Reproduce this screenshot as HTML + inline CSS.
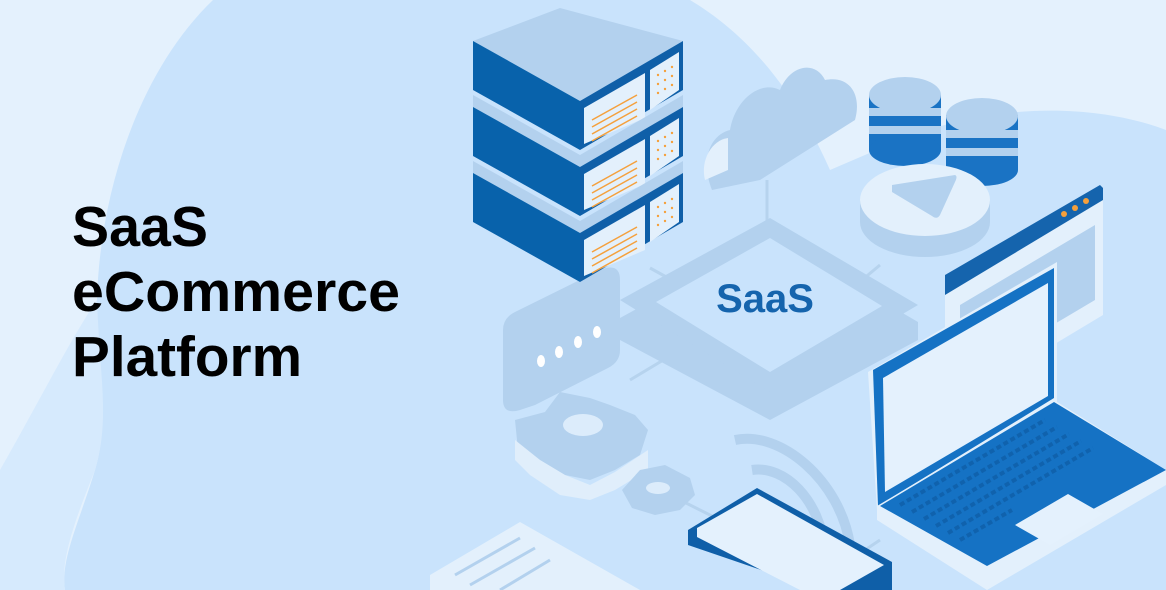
<!DOCTYPE html>
<html><head><meta charset="utf-8"><style>
html,body{margin:0;padding:0;}
body{width:1166px;height:590px;overflow:hidden;background:#e4f1fd;font-family:"Liberation Sans",sans-serif;}
svg{position:absolute;left:0;top:0;}
</style></head><body>
<svg width="1166" height="590" viewBox="0 0 1166 590">
<path d="M213,0 C140,70 100,190 97,300 C95,380 110,420 95,470 C80,520 60,560 65,590 L1166,590 L1166,130 C1100,105 1000,100 900,140 L830,170 C790,80 740,30 690,0 Z" fill="#c9e3fc"/>
<path d="M0,470 C40,400 70,340 97,300 C100,380 110,420 95,470 C75,520 60,560 65,590 L0,590 Z" fill="#d6eafd"/>
<g stroke="#b6d3ee" stroke-width="3" fill="none">
<line x1="767" y1="180" x2="767" y2="240"/>
<line x1="650" y1="268" x2="690" y2="290"/>
<line x1="850" y1="290" x2="880" y2="265"/>
<line x1="630" y1="380" x2="680" y2="350"/>
<line x1="870" y1="340" x2="890" y2="350"/>
<line x1="680" y1="500" x2="720" y2="520"/>
<line x1="850" y1="560" x2="880" y2="540"/>
</g>
<polygon points="620,318 770,236 918,322 918,340 770,420 620,340" fill="#b3d1ee"/>
<polygon points="620,300 770,218 918,305 770,392" fill="#b3d1ee"/>
<polygon points="656,302 770,238 882,306 770,372" fill="#c9e3fc"/>
<text x="765" y="312" text-anchor="middle" font-family="Liberation Sans,sans-serif" font-weight="bold" font-size="40" fill="#1564ad">SaaS</text>
<path d="M503,330 Q503,318 515,312 L600,270 Q620,262 620,280 L620,350 Q620,362 608,368 L535,405 L520,410 Q503,415 503,400 Z" fill="#b3d1ee"/>
<g fill="#ffffff"><ellipse cx="541" cy="361" rx="4" ry="6"/><ellipse cx="559" cy="352" rx="4" ry="6"/><ellipse cx="578" cy="342" rx="4" ry="6"/><ellipse cx="597" cy="332" rx="4" ry="6"/></g>
<path d="M515,420 L545,412 L560,392 L590,398 L610,405 L635,415 L648,430 L640,455 L615,470 L590,480 L565,475 L540,460 L518,450 Z" fill="#b3d1ee"/>
<path d="M515,440 L540,460 L565,475 L590,485 L615,472 L648,450 L648,470 L615,490 L590,500 L560,495 L530,475 L515,460 Z" fill="#e0eefb"/>
<ellipse cx="583" cy="425" rx="20" ry="11" fill="#dcecfb"/>
<path d="M622,490 L640,470 L665,465 L690,478 L695,495 L680,510 L655,515 L632,508 Z" fill="#b3d1ee"/>
<ellipse cx="658" cy="488" rx="12" ry="6" fill="#dcecfb"/>
<polygon points="430,575 520,522 640,590 430,590" fill="#e3f0fc"/>
<g stroke="#b3d1ee" stroke-width="3"><line x1="455" y1="575" x2="520" y2="538"/><line x1="470" y1="585" x2="535" y2="548"/><line x1="500" y1="590" x2="550" y2="560"/></g>
<path d="M712,190 C700,160 710,135 730,130 C735,100 760,80 780,90 C790,65 815,60 825,80 C850,75 862,95 855,120 L760,180 Z" fill="#b3d1ee"/>
<path d="M705,180 C700,160 712,140 728,138 L728,170 Z" fill="#e3f0fc"/>
<g>
<rect x="869" y="95" width="72" height="55" fill="#1a73c4"/>
<ellipse cx="905" cy="150" rx="36" ry="16" fill="#1a73c4"/>
<rect x="869" y="108" width="72" height="8" fill="#b3d1ee"/><rect x="869" y="126" width="72" height="8" fill="#b3d1ee"/>
<ellipse cx="905" cy="95" rx="36" ry="18" fill="#b3d1ee"/>
<rect x="946" y="115" width="72" height="55" fill="#1a73c4"/>
<ellipse cx="982" cy="170" rx="36" ry="16" fill="#1a73c4"/>
<rect x="946" y="130" width="72" height="8" fill="#b3d1ee"/><rect x="946" y="148" width="72" height="8" fill="#b3d1ee"/>
<ellipse cx="982" cy="116" rx="36" ry="18" fill="#b3d1ee"/>
</g>
<path d="M860,200 L860,222 A65,35 0 0 0 990,222 L990,200 Z" fill="#b3d1ee"/>
<ellipse cx="925" cy="200" rx="65" ry="36" fill="#e3f0fc"/>
<path d="M892,185 L955,175 Q958,176 955,182 L940,215 Q937,220 932,216 L892,192 Z" fill="#b3d1ee"/>
<polygon points="945,290 1103,195 1103,315 945,410" fill="#e3f0fc"/>
<polygon points="945,275 1100,185 1103,188 1103,200 945,295" fill="#1564ad"/>
<polygon points="960,305 1095,225 1095,300 960,380" fill="#b3d1ee"/>
<g fill="#f5a03c"><circle cx="1064" cy="214" r="3"/><circle cx="1075" cy="208" r="3"/><circle cx="1086" cy="201" r="3"/></g>
<polygon points="868,372 1057,262 1057,402 877,510" fill="#e3f0fc"/>
<polygon points="873,370 1054,268 1054,398 878,506" fill="#1572c4"/>
<polygon points="883,378 1048,283 1048,396 885,492" fill="#e4f1fd"/>
<polygon points="877,506 1054,400 1166,470 1166,485 987,590 877,520" fill="#e3f0fc"/>
<polygon points="880,506 1054,402 1166,470 987,566" fill="#1572c4"/>
<g stroke="#0f5fa8" stroke-width="4" stroke-dasharray="5,3" opacity="0.8">
<line x1="900" y1="505" x2="1045" y2="420"/><line x1="912" y1="512" x2="1057" y2="427"/><line x1="924" y1="519" x2="1069" y2="434"/><line x1="936" y1="526" x2="1081" y2="441"/><line x1="948" y1="533" x2="1093" y2="448"/><line x1="960" y1="540" x2="1012" y2="510"/>
</g>
<polygon points="1015,525 1068,494 1103,514 1050,545" fill="#e4f1fd"/>
<g fill="none" stroke="#b3d1ee" stroke-width="10">
<path d="M735,440 C780,430 840,480 850,545"/>
<path d="M752,470 C785,465 820,500 825,550"/>
</g>
<ellipse cx="795" cy="550" rx="10" ry="14" fill="#b3d1ee"/>
<polygon points="688,530 757,488 892,562 892,590 820,590 688,545" fill="#0f5fa8"/>
<polygon points="697,528 757,494 884,565 840,590 800,590 697,537" fill="#e4f1fd"/>
<g>
<polygon points="473,41 560,8 683,41 580,101" fill="#b3d1ee"/>
<g id="box">
<polygon points="473,41 580,101 580,150 473,90" fill="#0862ab"/>
<polygon points="580,101 683,41 683,90 580,150" fill="#0f5fa8"/>
<polygon points="584,108 645,73 645,118 584,144" fill="#e3f0fc"/>
<polygon points="650,70 679,52 679,90 650,110" fill="#e3f0fc"/>
<g stroke="#f5a03c" stroke-width="1.5"><line x1="592" y1="120" x2="637" y2="95"/><line x1="592" y1="127" x2="637" y2="102"/><line x1="592" y1="134" x2="637" y2="109"/><line x1="592" y1="141" x2="637" y2="116"/></g>
<g fill="#f5a03c"><circle cx="658" cy="75" r="1.2"/><circle cx="665" cy="71" r="1.2"/><circle cx="672" cy="67" r="1.2"/><circle cx="658" cy="84" r="1.2"/><circle cx="665" cy="80" r="1.2"/><circle cx="672" cy="76" r="1.2"/><circle cx="658" cy="93" r="1.2"/><circle cx="665" cy="89" r="1.2"/><circle cx="672" cy="85" r="1.2"/></g>
</g>
<polygon points="473,95 580,155 683,95 683,107 580,167 473,107" fill="#b3d1ee"/>
<use href="#box" y="66"/>
<polygon points="473,161 580,221 683,161 683,173 580,233 473,173" fill="#b3d1ee"/>
<use href="#box" y="132"/>
</g>
<g font-family="Liberation Sans,sans-serif" font-weight="bold" font-size="57" fill="#000">
<text x="72" y="246" textLength="136" lengthAdjust="spacingAndGlyphs">SaaS</text>
<text x="72" y="311" textLength="328" lengthAdjust="spacingAndGlyphs">eCommerce</text>
<text x="72" y="376" textLength="230" lengthAdjust="spacingAndGlyphs">Platform</text>
</g>
</svg>
</body></html>
